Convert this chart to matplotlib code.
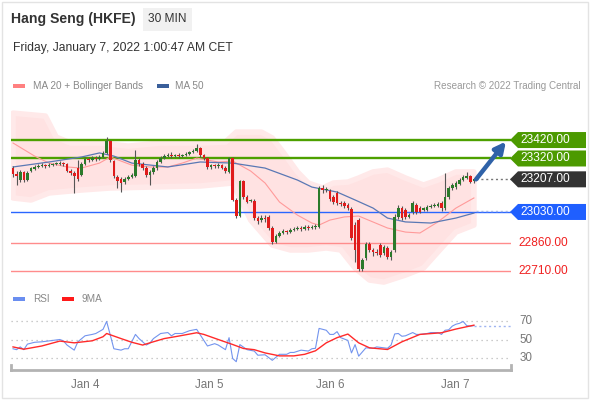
import matplotlib
matplotlib.use("Agg")
import matplotlib.pyplot as plt
import matplotlib.transforms as mtransforms
from matplotlib.patches import Polygon, Rectangle
import numpy as np

plt.rcParams['font.family'] = ['Liberation Sans', 'DejaVu Sans']

# ---- 30 min candles (Jan 3 evening -> Jan 7 00:30)
opens = [23268, 23236, 23203, 23247, 23203, 23252, 23263, 23274, 23279, 23284,
         23279, 23284, 23290, 23290, 23295, 23290, 23252, 23241, 23268, 23230,
         23290, 23317, 23312, 23322, 23317, 23328, 23350, 23415, 23306, 23219,
         23209, 23192, 23209, 23219, 23225, 23312, 23290, 23268, 23230, 23247,
         23268, 23301, 23322, 23333, 23339, 23333, 23339, 23333, 23339, 23344,
         23355, 23360, 23377, 23339, 23322, 23274, 23284, 23279, 23284, 23268,
         23247, 23322, 23095, 23008, 23198, 23111, 23089, 23089, 22997, 22986,
         22997, 23003, 22943, 22867, 22900, 22916, 22927, 22921, 22932, 22938,
         22943, 22938, 22948, 22943, 22948, 22948, 23160, 23149, 23144, 23111,
         23133, 23079, 23079, 23068, 23046, 22959, 22986, 22721, 22781, 22856,
         22824, 22813, 22851, 22808, 22835, 22786, 22824, 23003, 23051, 23041,
         23003, 23030, 23068, 23051, 23041, 23041, 23057, 23062, 23062, 23079,
         23051, 23111, 23160, 23165, 23182, 23203, 23214, 23225, 23198]
closes = [23236, 23225, 23247, 23203, 23241, 23268, 23274, 23279, 23284, 23279,
          23284, 23290, 23295, 23295, 23290, 23252, 23241, 23225, 23209, 23290,
          23317, 23312, 23322, 23317, 23328, 23350, 23415, 23312, 23225, 23198,
          23187, 23209, 23219, 23230, 23312, 23290, 23268, 23230, 23247, 23268,
          23301, 23322, 23333, 23339, 23333, 23339, 23333, 23339, 23344, 23355,
          23360, 23377, 23339, 23322, 23274, 23284, 23279, 23284, 23268, 23252,
          23322, 23095, 23008, 23198, 23111, 23084, 23095, 22997, 22981, 22997,
          22992, 22943, 22867, 22900, 22916, 22927, 22921, 22932, 22938, 22943,
          22938, 22948, 22943, 22948, 22954, 23160, 23149, 23154, 23100, 23084,
          23079, 23073, 23062, 23051, 22889, 22824, 22721, 22770, 22856, 22824,
          22813, 22810, 22797, 22840, 22786, 22813, 23003, 23051, 22997, 23003,
          23013, 23079, 23030, 23030, 23051, 23057, 23062, 23068, 23073, 23051,
          23111, 23160, 23176, 23187, 23203, 23219, 23225, 23192, 23207]
highs = [23279, 23252, 23257, 23252, 23252, 23274, 23284, 23290, 23295, 23290,
         23295, 23295, 23301, 23306, 23301, 23295, 23263, 23252, 23312, 23301,
         23328, 23328, 23333, 23333, 23339, 23360, 23436, 23420, 23312, 23230,
         23219, 23219, 23230, 23241, 23366, 23322, 23301, 23279, 23257, 23279,
         23312, 23333, 23344, 23350, 23355, 23344, 23350, 23344, 23355, 23360,
         23371, 23398, 23382, 23344, 23328, 23290, 23290, 23295, 23290, 23279,
         23328, 23328, 23106, 23203, 23203, 23122, 23100, 23100, 23008, 23013,
         23013, 23013, 22954, 22910, 22927, 22938, 22932, 22943, 22948, 22954,
         22954, 22959, 22959, 22959, 22965, 23171, 23176, 23165, 23154, 23122,
         23144, 23089, 23089, 23079, 23057, 22976, 22997, 22781, 22867, 22867,
         22835, 22829, 22862, 22851, 22845, 22824, 23019, 23068, 23062, 23051,
         23024, 23089, 23079, 23062, 23057, 23068, 23073, 23079, 23084, 23089,
         23241, 23171, 23187, 23198, 23214, 23230, 23247, 23230, 23214]
lows = [23219, 23176, 23192, 23192, 23198, 23247, 23257, 23268, 23274, 23268,
        23274, 23279, 23284, 23284, 23279, 23247, 23230, 23133, 23198, 23225,
        23284, 23301, 23306, 23306, 23312, 23322, 23344, 23301, 23214, 23160,
        23138, 23182, 23203, 23214, 23219, 23279, 23257, 23219, 23176, 23236,
        23257, 23295, 23317, 23328, 23322, 23328, 23322, 23328, 23333, 23339,
        23350, 23355, 23328, 23312, 23263, 23263, 23268, 23268, 23263, 23241,
        23241, 23089, 22997, 23003, 23100, 23079, 23084, 22986, 22965, 22976,
        22976, 22932, 22856, 22862, 22894, 22910, 22910, 22916, 22927, 22932,
        22927, 22932, 22932, 22938, 22938, 22943, 23133, 23138, 23089, 23073,
        23068, 23062, 23051, 23041, 22878, 22759, 22710, 22710, 22770, 22813,
        22792, 22797, 22786, 22797, 22775, 22770, 22813, 22992, 22986, 22992,
        22997, 23019, 23019, 23024, 23035, 23035, 23051, 23057, 23057, 23035,
        23041, 23100, 23149, 23154, 23176, 23198, 23209, 23187, 23187]

# Bollinger envelope and moving averages (read at candle positions)
band_up_idx = [0, 9, 12, 16, 24, 32, 41, 52, 59, 62, 69, 72, 75, 79, 82, 86,
               89, 93, 96, 100, 104, 109, 114, 118, 123, 128]
band_up = [23566, 23550, 23436, 23404, 23404, 23387, 23404, 23404, 23409, 23463,
           23463, 23431, 23355, 23247, 23187, 23160, 23187, 23192, 23214, 23247,
           23257, 23214, 23176, 23203, 23247, 23247]
band_lo_idx = [0, 5, 10, 19, 27, 38, 52, 61, 66, 72, 77, 82, 87, 91, 95, 99,
               103, 109, 114, 118, 123, 128]
band_lo = [23106, 23095, 23133, 23149, 23160, 23165, 23171, 23187, 22986, 22851,
           22824, 22824, 22835, 22824, 22726, 22661, 22650, 22688, 22726, 22813,
           22921, 22959]
ma20_idx = [0, 6, 10, 15, 19, 24, 27, 33, 38, 43, 47, 51, 57, 61, 66, 70, 74,
            79, 83, 85, 88, 92, 96, 104, 109, 113, 118, 123, 128]
ma20 = [23404, 23333, 23295, 23274, 23268, 23295, 23328, 23284, 23274, 23274,
        23295, 23322, 23301, 23306, 23252, 23187, 23084, 23013, 22970, 22959,
        22986, 23003, 23008, 22943, 22921, 22916, 22976, 23051, 23106]
ma50_idx = [0, 10, 19, 24, 28, 33, 43, 52, 61, 70, 79, 83, 90, 95, 100, 104,
            109, 116, 123, 128]
ma50 = [23274, 23301, 23328, 23350, 23333, 23295, 23274, 23301, 23295, 23268,
        23203, 23165, 23138, 23095, 23051, 22997, 22976, 22970, 22997, 23024]

# key levels
res_levels = [23420, 23320]
last_price = 23207
pivot = 23030
sup_levels = [22860, 22710]

# RSI panel
rsi_idx = [0, 1, 2, 3, 4, 6, 8, 9, 11, 13, 14, 15, 17, 18, 20, 22, 23, 25, 26,
           27, 28, 30, 31, 32, 34, 35, 37, 38, 39, 41, 43, 44, 45, 47, 49, 51,
           52, 53, 54, 56, 57, 59, 60, 61, 62, 63, 65, 67, 68, 70, 72, 74, 76,
           77, 78, 80, 82, 83, 84, 85, 87, 88, 89, 90, 91, 92, 93, 94, 95, 96,
           97, 98, 100, 101, 103, 104, 105, 106, 107, 108, 109, 111, 112, 113,
           115, 116, 118, 119, 120, 121, 122, 123, 124, 125, 126, 127, 128]
rsi = [40, 39, 42, 39, 45, 47, 47.5, 48, 49, 50, 48.5, 44, 38.5, 47.5, 54, 55.5,
       56.5, 61, 69.5, 55, 40, 38.5, 40, 40, 55.5, 51, 44, 46, 51, 56.5, 57.5,
       54, 56.5, 56.5, 59.5, 61, 55, 49, 43, 45.5, 44, 39, 52, 29.5, 26, 44.5,
       39, 37.5, 33, 33.5, 27.5, 34, 34, 36, 36, 38.5, 37.5, 40, 40.5, 62, 60,
       55.5, 55.5, 58.5, 52, 50.5, 49, 35.5, 44.5, 32, 36.5, 41, 40.5, 42, 41,
       40.5, 44, 56, 56.5, 53.5, 54, 57.5, 55.5, 55.5, 56.5, 57.5, 57.5, 55.5,
       60, 60.5, 64.5, 66.5, 67.5, 69.5, 65, 64.5, 65]
rsi_ma_idx = [0, 3, 8, 13, 17, 22, 25, 26, 30, 33, 36, 38, 42, 46, 51, 53, 57,
              61, 64, 67, 70, 74, 78, 81, 84, 87, 90, 93, 96, 99, 104, 108, 113,
              119, 123, 128]
rsi_ma = [42, 39.5, 43, 48.3, 46.4, 48.6, 53, 56.5, 51, 47, 44, 46.4, 51, 53.7,
          57.3, 55.5, 50, 44.6, 40.3, 39, 35.5, 32.3, 32.3, 34, 37.8, 46.4, 52,
          55.9, 46.4, 41, 39.2, 47.5, 55.5, 57.3, 61.3, 65.5]
rsi_grid = [70, 50, 30]

day_pos = [20, 54.4, 88, 122.8]
day_labels = ["Jan 4", "Jan 5", "Jan 6", "Jan 7"]

W, H = 590, 400
fig = plt.figure(figsize=(W / 100, H / 100), dpi=100)
fig.patch.set_facecolor('white')

XL = (-0.56, 138.3)
ax = fig.add_axes([11 / W, 1 - 285 / H, 500 / W, 180 / H])
ax.set_xlim(*XL)
ax.set_ylim(22634, 23610)
ax.axis('off')

n = len(closes)
x = np.arange(n)
o = np.array(opens)
c = np.array(closes)

# bollinger envelope
ax.fill(np.r_[band_up_idx, band_lo_idx[::-1]], np.r_[band_up, band_lo[::-1]],
        facecolor='#ffe2e2', edgecolor='#ffe9e9', lw=4, joinstyle='round', zorder=1)

# level lines
for lv in res_levels:
    ax.axhline(lv, color='#4da000', lw=1.7, zorder=2)
ax.axhline(pivot, color='#2a66ff', lw=1.0, zorder=2)
for lv in sup_levels:
    ax.axhline(lv, color='#ff8c8c', lw=1.0, zorder=2)

ax.plot(ma20_idx, ma20, color='#ff9a9a', lw=0.8, zorder=3)
ax.plot(ma50_idx, ma50, color='#5a78b4', lw=0.9, zorder=3)

# candles
ax.vlines(x, lows, highs, color='#555555', lw=0.8, zorder=4)
up = c >= o
cols = np.where(up, '#2b7a2b', '#e01b1b')
body = np.where(np.abs(c - o) < 3, 3, c - o)
ax.bar(x, body, bottom=o, width=0.72, color=cols, lw=0, zorder=5)

# dotted guides to labels
ax.plot([n - 0.3, XL[1]], [last_price, last_price], ls=(0, (1.5, 2)), color='#777777',
        lw=1, zorder=3, clip_on=False)
ax.plot([n - 0.3, XL[1]], [ma50[-1] + 12, ma50[-1] + 12], ls=(0, (1.5, 2)),
        color='#a8b8e8', lw=1, zorder=3, clip_on=False)

# forecast arrow
ax.annotate('', xy=(n + 7.9, res_levels[0] - 8), xytext=(n - 0.4, last_price),
            arrowprops=dict(arrowstyle='-|>', color='#2f62a8', lw=3.2,
                            mutation_scale=16, shrinkA=0, shrinkB=0),
            annotation_clip=False, zorder=6)

# price badges
blend = mtransforms.blended_transform_factory(ax.transAxes, ax.transData)
ident = mtransforms.IdentityTransform()


def badge(level, text, fc):
    yd = ax.transData.transform((0, level))[1]
    pts = [(510, yd), (518, yd + 8), (586, yd + 8), (586, yd - 8), (518, yd - 8)]
    fig.patches.append(Polygon(pts, closed=True, facecolor=fc, edgecolor='none',
                               transform=ident, figure=fig, zorder=1))
    fig.text(545, yd, text, transform=ident, ha='center', va='center',
             color='white', fontsize=8.6, zorder=5)


for lv in res_levels:
    badge(lv, f"{lv:.2f}", '#4c9a00')
badge(last_price, f"{last_price:.2f}", '#333333')
badge(pivot, f"{pivot:.2f}", '#1f5fff')
for lv in sup_levels:
    ax.text((543 - 11) / 500, lv, f"{lv:.2f}", transform=blend, ha='center', va='center',
            color='#f02020', fontsize=8.6, clip_on=False)

# ---- RSI panel
rx = fig.add_axes([11 / W, 1 - 370 / H, 500 / W, 60 / H])
rx.set_xlim(*XL)
rx.set_ylim(17.03, 81.9)
rx.set_facecolor('none')
for g in rsi_grid:
    rx.axhline(g, color='#bbbbbb', lw=0.9, ls=(0, (1, 3)))
    rx.text((526 - 11) / 500, g, str(g), transform=mtransforms.blended_transform_factory(
        rx.transAxes, rx.transData), ha='center', va='center', color='#777777',
        fontsize=8.4, clip_on=False)
rx.plot(rsi_idx, rsi, color='#7394ee', lw=0.8)
rx.plot(rsi_ma_idx, rsi_ma, color='#ff2a2a', lw=1.0)
rx.plot([rsi_idx[-1], XL[1]], [rsi[-1], rsi[-1]], ls=(0, (1.5, 2)), color='#9fb4f0',
        lw=1, clip_on=False)
rx.spines['top'].set_visible(False)
for s in ['bottom', 'left', 'right']:
    rx.spines[s].set_color('#b3b3b3')
    rx.spines[s].set_linewidth(2)
rx.spines['left'].set_bounds(17.03, 22.5)
rx.spines['right'].set_bounds(17.03, 22.5)
rx.set_yticks([])
rx.set_xticks(day_pos)
rx.set_xticklabels(day_labels)
rx.tick_params(axis='x', length=0, pad=6.5, labelsize=8.4, labelcolor='#777777')

# ---- header texts
fig.patches.append(Rectangle((143, H - 31), 49, 23, facecolor='#f1f1f1', edgecolor='none',
                             transform=ident, figure=fig))
fig.text(11 / W, 1 - 19 / H, "Hang Seng (HKFE)", fontsize=10.1, fontweight='bold',
         color='#333333', va='center')
fig.text(167 / W, 1 - 19 / H, "30 MIN", fontsize=8.6, color='#333333', va='center',
         ha='center')
fig.text(13 / W, 1 - 48 / H, "Friday, January 7, 2022 1:00:47 AM CET", fontsize=8.7,
         color='#333333', va='center')

# legends
fig.patches.append(Rectangle((13, H - 88), 12, 4, facecolor='#ff8080', edgecolor='none',
                             transform=ident, figure=fig))
fig.text(33 / W, 1 - 86 / H, "MA 20 + Bollinger Bands", fontsize=7.2, color='#888888',
         va='center')
fig.patches.append(Rectangle((157, H - 88), 12, 4, facecolor='#3a5f9a', edgecolor='none',
                             transform=ident, figure=fig))
fig.text(175 / W, 1 - 86 / H, "MA 50", fontsize=7.2, color='#888888', va='center')
fig.text(581 / W, 1 - 86 / H, "Research \u00a9 2022 Trading Central", fontsize=7.1,
         color='#999999', va='center', ha='right')

fig.patches.append(Rectangle((13, H - 301), 12, 4, facecolor='#6a8ef0', edgecolor='none',
                             transform=ident, figure=fig))
fig.text(33 / W, 1 - 299 / H, "RSI", fontsize=7.2, color='#888888', va='center')
fig.patches.append(Rectangle((62, H - 301), 12, 4, facecolor='#ff1a1a', edgecolor='none',
                             transform=ident, figure=fig))
fig.text(82 / W, 1 - 299 / H, "9MA", fontsize=7.2, color='#888888', va='center')

# card border
fig.patches.append(Rectangle((1.5, 2.5), 586, 396, facecolor='none', edgecolor='#e3e3e3',
                             lw=1, transform=ident, figure=fig))

fig.savefig("out.png", dpi=100)
